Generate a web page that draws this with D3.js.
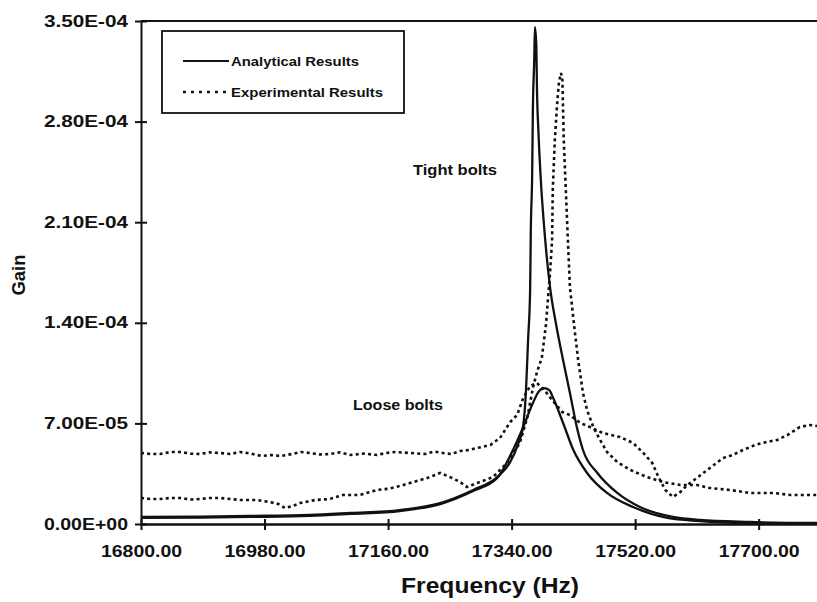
<!DOCTYPE html>
<html>
<head>
<meta charset="utf-8">
<script src="https://cdn.jsdelivr.net/npm/d3@7"></script>
<style>
  html, body { margin: 0; padding: 0; background: #fff; }
  svg { display: block; }
  text { font-family: "Liberation Sans", Arial, "DejaVu Sans", sans-serif; fill: #111; }
</style>
</head>
<body>
<svg id="chart" width="817" height="602"></svg>
<script>
// ---------- data (frequency in Hz, gain in units of 1e-5) ----------
const xTicks = [16800, 16980, 17160, 17340, 17520, 17700];
const xTickLabels = ["16800.00", "16980.00", "17160.00", "17340.00", "17520.00", "17700.00"];
const yTicks = [0, 7e-5, 1.4e-4, 2.1e-4, 2.8e-4, 3.5e-4];
const yTickLabels = ["0.00E+00", "7.00E-05", "1.40E-04", "2.10E-04", "2.80E-04", "3.50E-04"];

const seriesNames = ["Analytical Results", "Experimental Results"];
const annotations = ["Tight bolts", "Loose bolts"];

// Analytical, tight bolts
const anaTightFreq = [16800, 16886, 16959, 17046, 17105, 17177, 17236, 17284, 17319, 17338, 17349, 17357, 17361, 17364, 17367, 17368, 17370, 17371, 17373, 17374, 17376, 17377, 17379, 17382, 17389, 17396, 17405, 17415, 17425, 17435, 17444, 17465, 17494, 17527, 17575, 17614, 17687, 17785];
const anaTightGain = [0.49, 0.52, 0.56, 0.63, 0.77, 0.97, 1.46, 2.37, 3.27, 4.31, 5.50, 6.89, 9.32, 12.80, 16.28, 20.46, 24.42, 28.81, 32.29, 34.58, 33.33, 30.20, 27.41, 24.42, 19.76, 16.49, 13.85, 11.41, 9.12, 6.75, 5.15, 3.55, 2.16, 1.18, 0.49, 0.28, 0.14, 0.07];

// Analytical, loose bolts
const anaLooseFreq = [16800, 16886, 16959, 17046, 17105, 17177, 17236, 17284, 17319, 17342, 17357, 17371, 17379, 17387, 17395, 17400, 17415, 17430, 17450, 17479, 17517, 17567, 17614, 17687, 17785];
const anaLooseGain = [0.42, 0.45, 0.49, 0.56, 0.70, 0.90, 1.39, 2.30, 3.20, 5.15, 6.75, 8.42, 9.18, 9.46, 9.32, 8.84, 7.03, 5.15, 3.55, 2.16, 1.18, 0.42, 0.21, 0.07, 0.03];

// Experimental, loose bolts
const expLooseFreq = [16800, 16814, 16828, 16843, 16857, 16872, 16886, 16900, 16915, 16930, 16944, 16960, 16976, 16990, 17003, 17020, 17033, 17046, 17060, 17075, 17090, 17105, 17125, 17144, 17157, 17170, 17192, 17214, 17227, 17240, 17252, 17265, 17278, 17290, 17309, 17323, 17338, 17348, 17357, 17367, 17377, 17389, 17400, 17414, 17425, 17440, 17454, 17473, 17498, 17517, 17532, 17545, 17554, 17564, 17575, 17586, 17596, 17610, 17629, 17648, 17662, 17677, 17695, 17712, 17727, 17742, 17760, 17775, 17785];
const expLooseGain = [4.94, 4.87, 4.87, 5.01, 5.01, 4.90, 4.87, 4.98, 4.94, 4.87, 5.01, 4.90, 4.73, 4.80, 4.73, 4.87, 5.01, 4.94, 4.84, 4.87, 4.98, 4.80, 4.90, 4.80, 4.94, 5.01, 4.94, 4.87, 5.04, 4.94, 4.87, 5.08, 5.15, 5.29, 5.50, 5.98, 7.10, 7.58, 8.77, 9.60, 9.81, 9.25, 8.56, 7.79, 7.58, 7.03, 6.75, 6.33, 6.05, 5.64, 4.94, 4.24, 3.27, 2.37, 1.88, 2.23, 2.71, 3.20, 3.90, 4.59, 4.80, 5.15, 5.50, 5.71, 5.85, 6.19, 6.75, 6.89, 6.82];

// Experimental, tight bolts
const expTightFreq = [16800, 16814, 16828, 16843, 16857, 16872, 16886, 16900, 16915, 16930, 16944, 16969, 16988, 17000, 17010, 17021, 17032, 17054, 17075, 17094, 17119, 17144, 17160, 17177, 17192, 17217, 17236, 17250, 17265, 17275, 17290, 17313, 17333, 17352, 17363, 17371, 17377, 17384, 17390, 17396, 17399, 17400, 17403, 17406, 17409, 17412, 17414, 17416, 17419, 17422, 17425, 17431, 17437, 17444, 17450, 17459, 17469, 17479, 17494, 17513, 17537, 17561, 17586, 17610, 17629, 17658, 17687, 17721, 17746, 17785];
const expTightGain = [1.81, 1.74, 1.74, 1.81, 1.81, 1.70, 1.74, 1.81, 1.81, 1.74, 1.67, 1.67, 1.53, 1.39, 1.11, 1.25, 1.46, 1.67, 1.74, 2.02, 2.02, 2.37, 2.45, 2.64, 2.85, 3.20, 3.55, 3.27, 2.92, 2.57, 2.85, 3.27, 4.24, 5.64, 7.44, 9.46, 10.58, 11.55, 13.85, 17.46, 19.76, 23.24, 26.72, 29.01, 30.75, 31.38, 30.89, 26.72, 23.24, 19.76, 16.49, 13.85, 11.41, 9.12, 7.93, 6.75, 5.84, 5.01, 4.31, 3.76, 3.27, 2.92, 2.71, 2.71, 2.50, 2.37, 2.16, 2.16, 2.02, 2.02];

// ---------- layout ----------
const W = 817, H = 602;
const mLeft = 141, mRight = 817, mTop = 21, mBottom = 524;
const SCALE = 1e-5;

const x = d3.scaleLinear().domain([16800, 17785]).range([mLeft, mRight]);
const y = d3.scaleLinear().domain([0, 3.5e-4]).range([mBottom, mTop]);

const svg = d3.select("#chart");
svg.append("rect").attr("width", W).attr("height", H).attr("fill", "#fff");

const ink = "#111";

svg.append("clipPath").attr("id", "plotclip")
  .append("rect").attr("x", mLeft).attr("y", mTop - 2).attr("width", mRight - mLeft).attr("height", mBottom - mTop + 4);

// top frame line
svg.append("line").attr("x1", mLeft).attr("x2", mRight).attr("y1", mTop).attr("y2", mTop)
  .attr("stroke", ink).attr("stroke-width", 2);

// y axis
const yAxis = d3.axisLeft(y).tickValues(yTicks)
  .tickFormat((d, i) => yTickLabels[i]).tickSizeInner(6).tickSizeOuter(0).tickPadding(7);
const gy = svg.append("g").attr("transform", `translate(${mLeft},0)`).call(yAxis);
gy.select(".domain").attr("stroke", ink).attr("stroke-width", 2);
gy.selectAll(".tick line").attr("x1", 6).attr("stroke", ink).attr("stroke-width", 2);
gy.selectAll(".tick text").attr("font-size", 16).attr("font-weight", "bold")
  .attr("textLength", 84).attr("lengthAdjust", "spacingAndGlyphs").attr("fill", ink);

// x axis
const xAxis = d3.axisBottom(x).tickValues(xTicks)
  .tickFormat((d, i) => xTickLabels[i]).tickSizeInner(6).tickSizeOuter(0).tickPadding(16);
const gx = svg.append("g").attr("transform", `translate(0,${mBottom})`).call(xAxis);
gx.select(".domain").attr("stroke", ink).attr("stroke-width", 2.5);
gx.selectAll(".tick line").attr("y1", -5).attr("stroke", ink).attr("stroke-width", 2);
gx.selectAll(".tick text").attr("font-size", 16).attr("font-weight", "bold")
  .attr("textLength", 81).attr("lengthAdjust", "spacingAndGlyphs").attr("fill", ink);

// axis titles
svg.append("text").attr("transform", "translate(25,275) rotate(-90)")
  .attr("text-anchor", "middle").attr("font-size", 19).attr("font-weight", "bold")
  .attr("textLength", 41).attr("lengthAdjust", "spacingAndGlyphs").text("Gain");
svg.append("text").attr("x", 490).attr("y", 593)
  .attr("text-anchor", "middle").attr("font-size", 22).attr("font-weight", "bold")
  .attr("textLength", 178).attr("lengthAdjust", "spacingAndGlyphs").text("Frequency (Hz)");

// ---------- curves ----------
const plot = svg.append("g").attr("clip-path", "url(#plotclip)");
function pts(fs, gs) { return fs.map((f, i) => [f, gs[i] * SCALE]); }

const smooth = d3.line().x(d => x(d[0])).y(d => y(d[1])).curve(d3.curveMonotoneX);
const rough = d3.line().x(d => x(d[0])).y(d => y(d[1])).curve(d3.curveLinear);

[[anaTightFreq, anaTightGain], [anaLooseFreq, anaLooseGain]].forEach(([f, g]) => {
  plot.append("path").attr("d", smooth(pts(f, g)))
    .attr("fill", "none").attr("stroke", ink).attr("stroke-width", 2.3);
});
[[expTightFreq, expTightGain], [expLooseFreq, expLooseGain]].forEach(([f, g]) => {
  plot.append("path").attr("d", rough(pts(f, g)))
    .attr("fill", "none").attr("stroke", ink).attr("stroke-width", 2.6)
    .attr("stroke-dasharray", "3,3.2");
});

// ---------- legend ----------
const lg = svg.append("g");
lg.append("rect").attr("x", 162).attr("y", 31).attr("width", 242).attr("height", 82)
  .attr("fill", "#fff").attr("stroke", ink).attr("stroke-width", 1.8);
lg.append("line").attr("x1", 183).attr("x2", 229).attr("y1", 61).attr("y2", 61)
  .attr("stroke", ink).attr("stroke-width", 2);
lg.append("line").attr("x1", 183).attr("x2", 229).attr("y1", 92).attr("y2", 92)
  .attr("stroke", ink).attr("stroke-width", 2.6).attr("stroke-dasharray", "3,5");
lg.append("text").attr("x", 231).attr("y", 66).attr("font-size", 13).attr("font-weight", "bold")
  .attr("textLength", 128).attr("lengthAdjust", "spacingAndGlyphs").text(seriesNames[0]);
lg.append("text").attr("x", 231).attr("y", 97).attr("font-size", 13).attr("font-weight", "bold")
  .attr("textLength", 152).attr("lengthAdjust", "spacingAndGlyphs").text(seriesNames[1]);

// ---------- annotations ----------
svg.append("text").attr("x", 413).attr("y", 175).attr("font-size", 14).attr("font-weight", "bold")
  .attr("textLength", 84).attr("lengthAdjust", "spacingAndGlyphs").text(annotations[0]);
svg.append("text").attr("x", 353).attr("y", 410).attr("font-size", 14).attr("font-weight", "bold")
  .attr("textLength", 90).attr("lengthAdjust", "spacingAndGlyphs").text(annotations[1]);
</script>
</body>
</html>
